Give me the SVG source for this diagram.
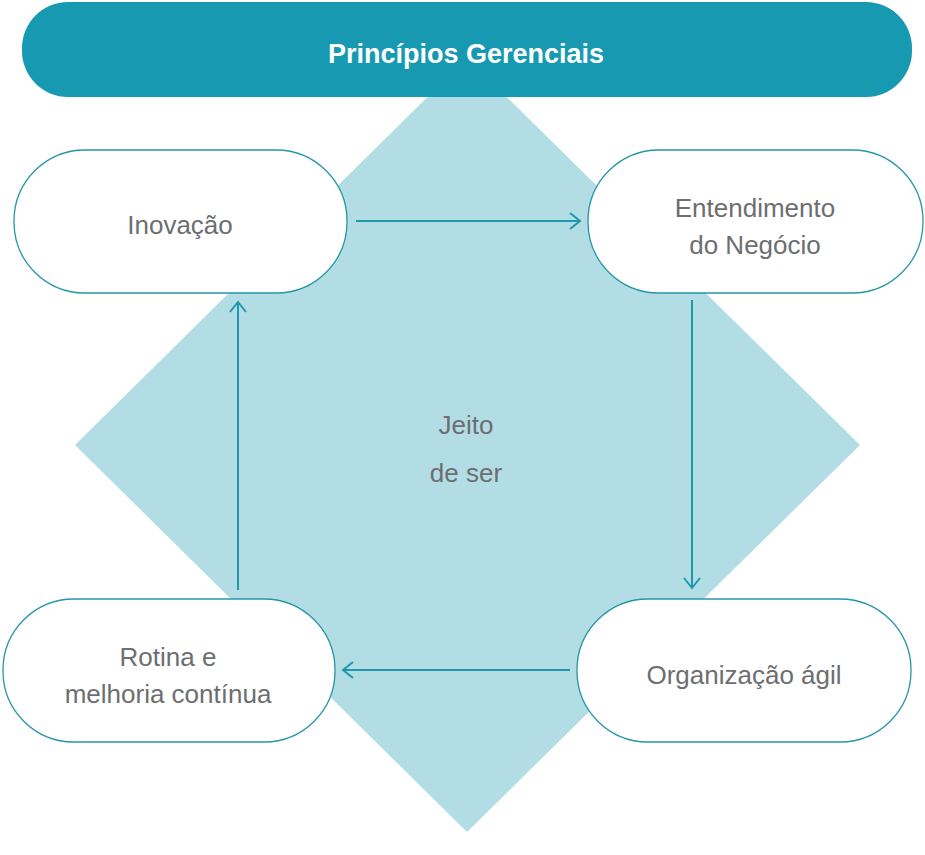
<svg xmlns="http://www.w3.org/2000/svg" width="925" height="855" viewBox="0 0 925 855">
<style>
.n{fill:#fff;stroke:#2596a8;stroke-width:1.3}
.t{font-family:"Liberation Sans",Arial,sans-serif;font-size:26px;fill:#6d6e71;text-anchor:middle}
.c{stroke:#1f97ad;stroke-width:2;fill:none;marker-end:url(#a)}
</style>
<defs><marker id="a" viewBox="0 0 20 20" refX="17" refY="10" markerWidth="20" markerHeight="20" markerUnits="userSpaceOnUse" orient="auto"><path d="M7,2 L17,10 L7,18" fill="none" stroke="#1f97ad" stroke-width="2"/></marker></defs>
<rect width="925" height="855" fill="#fff"/>
<polygon id="diamond" points="467,58 860,445 467,832 75,445" fill="#b2dde5"/>
<g id="header"><rect x="22" y="2" width="890" height="95" rx="46" fill="#1799b1"/>
<text x="466" y="63" font-family="Liberation Sans,Arial,sans-serif" font-size="27" font-weight="bold" fill="#fff" text-anchor="middle">Princípios Gerenciais</text></g>
<g id="center"><text class="t" x="466" y="434">Jeito</text><text class="t" x="466" y="482">de ser</text></g>
<g id="connectors">
<line class="c" x1="356" y1="221" x2="580" y2="221"/>
<line class="c" x1="692" y1="300" x2="692" y2="588"/>
<line class="c" x1="570" y1="670" x2="343" y2="670"/>
<line class="c" x1="238" y1="590" x2="238" y2="302"/>
</g>
<g id="inovacao"><rect class="n" x="14" y="150" width="333" height="143" rx="71"/><text class="t" x="180" y="234">Inovação</text></g>
<g id="entendimento"><rect class="n" x="588" y="150" width="335" height="143" rx="71"/><text class="t" x="755" y="217">Entendimento</text><text class="t" x="755" y="254">do Negócio</text></g>
<g id="rotina"><rect class="n" x="3" y="599" width="332" height="143" rx="71"/><text class="t" x="168" y="666">Rotina e</text><text class="t" x="168" y="703">melhoria contínua</text></g>
<g id="organizacao"><rect class="n" x="577" y="599" width="334" height="143" rx="71"/><text class="t" x="744" y="684">Organização ágil</text></g>
</svg>
